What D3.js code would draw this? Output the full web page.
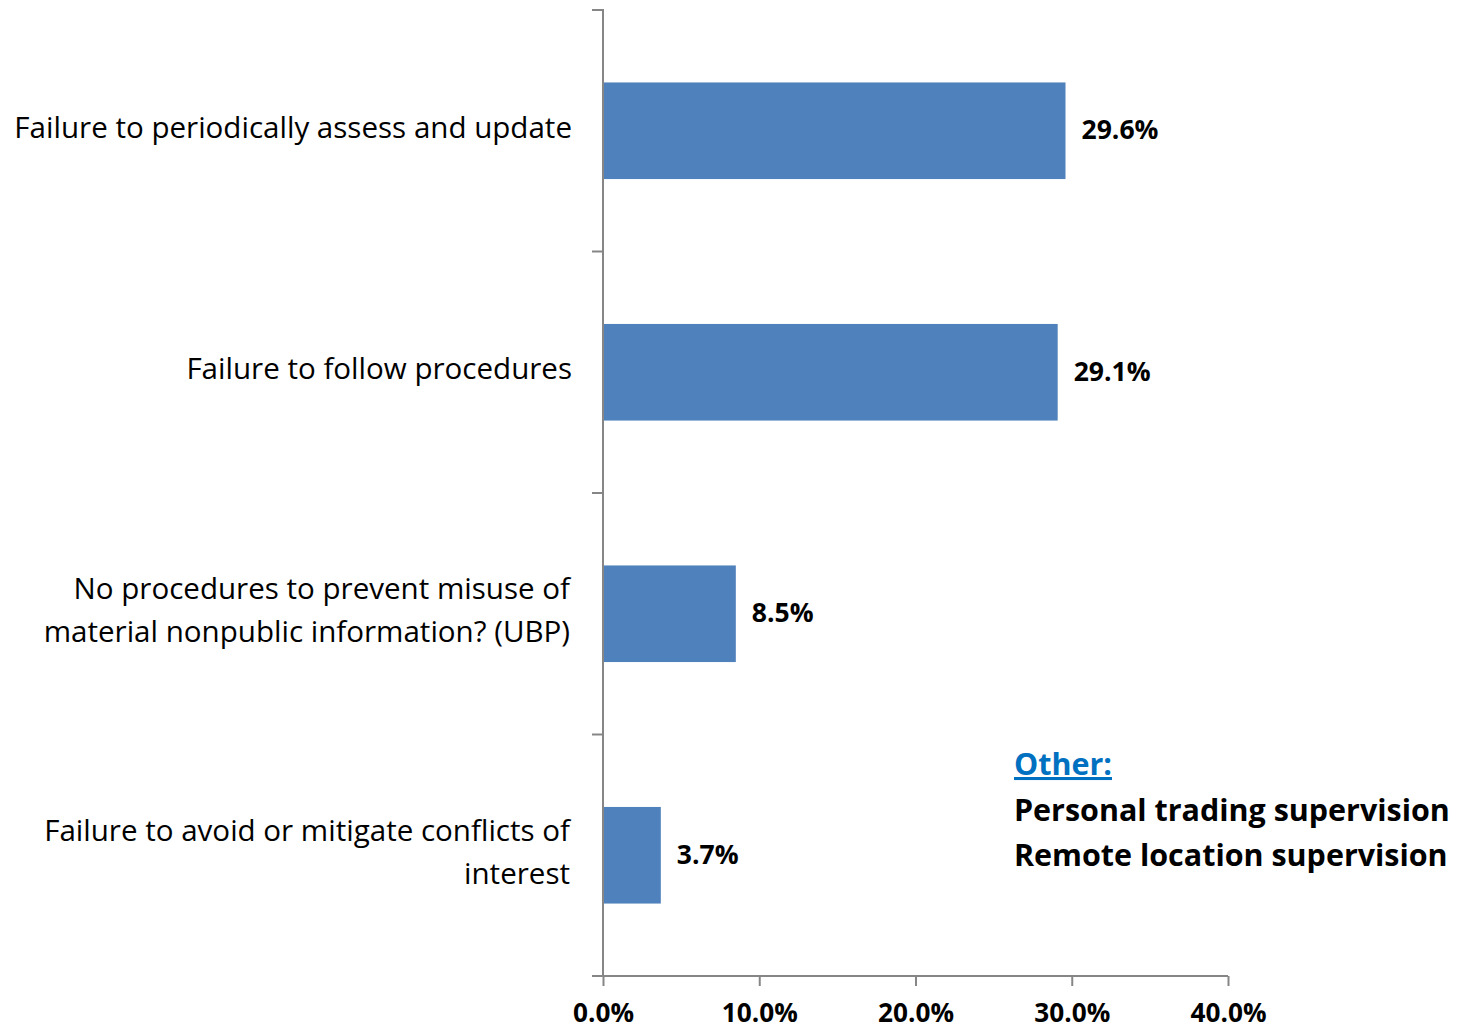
<!DOCTYPE html>
<html><head><meta charset="utf-8">
<script src="https://cdn.jsdelivr.net/npm/d3@7"></script>
<style>body{margin:0;background:#fff}svg{display:block}text{font-family:"Open Sans",sans-serif}</style>
</head><body>
<svg id="c" width="1472" height="1031"></svg>
<script>
const categories = [
  ["Failure to periodically assess and update"],
  ["Failure to follow procedures"],
  ["No procedures to prevent misuse of", "material nonpublic information? (UBP)"],
  ["Failure to avoid or mitigate conflicts of", "interest"]
];
const values = [29.6, 29.1, 8.5, 3.7];
const xTicks = [0, 10, 20, 30, 40];
const otherTitle = "Other:";
const otherItems = ["Personal trading supervision", "Remote location supervision"];

const svg = d3.select("#c");
const x = d3.scaleLinear().domain([0, 40]).range([603, 1228]);
const y = d3.scaleBand().domain(d3.range(categories.length)).range([10, 976]).paddingInner(0.6).paddingOuter(0.3);
const axisColor = "#868686";

// size a font so that a sample text reaches a target width
function fitSize(sample, weight, target){
  const t = svg.append("text").attr("font-size",100).attr("font-weight",weight).text(sample);
  const w = t.node().getComputedTextLength(); t.remove();
  return 100*target/w;
}
const catSize = fitSize(categories[0][0], "normal", 558);
const valSize = fitSize("29.6%", "bold", 77);
const tickSize = fitSize("40.0%", "bold", 76);
const otherSize = fitSize(otherItems[0], "bold", 436);

// bars
svg.selectAll("rect.bar").data(values).enter().append("rect")
  .attr("x", x(0)).attr("y", (d,i)=>y(i)).attr("width", d=>x(d)-x(0)).attr("height", y.bandwidth())
  .attr("fill", "#4F81BD");

// y axis line and ticks
svg.append("line").attr("x1",603).attr("x2",603).attr("y1",9).attr("y2",976).attr("stroke",axisColor).attr("stroke-width",2);
const step = (976-10)/categories.length;
d3.range(categories.length+1).forEach(k=>{
  const yy = 10 + k*step;
  svg.append("line").attr("x1",592).attr("x2",603).attr("y1",yy).attr("y2",yy).attr("stroke",axisColor).attr("stroke-width",2);
});

// x axis
const xAxis = d3.axisBottom(x).tickValues(xTicks).tickSize(10).tickPadding(20).tickFormat(d=>d.toFixed(1)+"%");
const gx = svg.append("g").attr("transform","translate(0,976)").call(xAxis);
gx.select(".domain").attr("stroke",axisColor).attr("stroke-width",2).attr("d","M603,0H1228");
gx.selectAll(".tick line").attr("stroke",axisColor).attr("stroke-width",2);
gx.selectAll(".tick text").attr("fill","#000").attr("font-size",tickSize).attr("font-weight","bold")
  .attr("font-family","'Open Sans',sans-serif").attr("dy",0).attr("y",46);

// category labels
const catG = svg.selectAll("g.cat").data(categories).enter().append("g");
catG.each(function(lines,i){
  const cy = y(i)+y.bandwidth()/2;
  const n = lines.length;
  lines.forEach((ln,j)=>{
    d3.select(this).append("text").attr("x", n>1?570:572)
      .attr("y", cy + (j-(n-1)/2)*43 + 7)
      .attr("text-anchor","end").attr("font-size",catSize).attr("fill","#000").text(ln);
  });
});

// value labels
svg.selectAll("text.val").data(values).enter().append("text")
  .attr("x", d=>x(d)+16).attr("y",(d,i)=>y(i)+y.bandwidth()/2+8.5)
  .attr("font-size",valSize).attr("font-weight","bold").attr("fill","#000").text(d=>d.toFixed(1)+"%");

// Other annotation
svg.append("text").attr("x",1014).attr("y",775).attr("font-size",otherSize).attr("font-weight","bold")
  .attr("fill","#0070C0").attr("text-decoration","underline").text(otherTitle);
otherItems.forEach((t,j)=>{
  svg.append("text").attr("x",1014).attr("y",821+j*45).attr("font-size",otherSize).attr("font-weight","bold")
    .attr("fill","#000").text(t);
});
</script>
</body></html>
